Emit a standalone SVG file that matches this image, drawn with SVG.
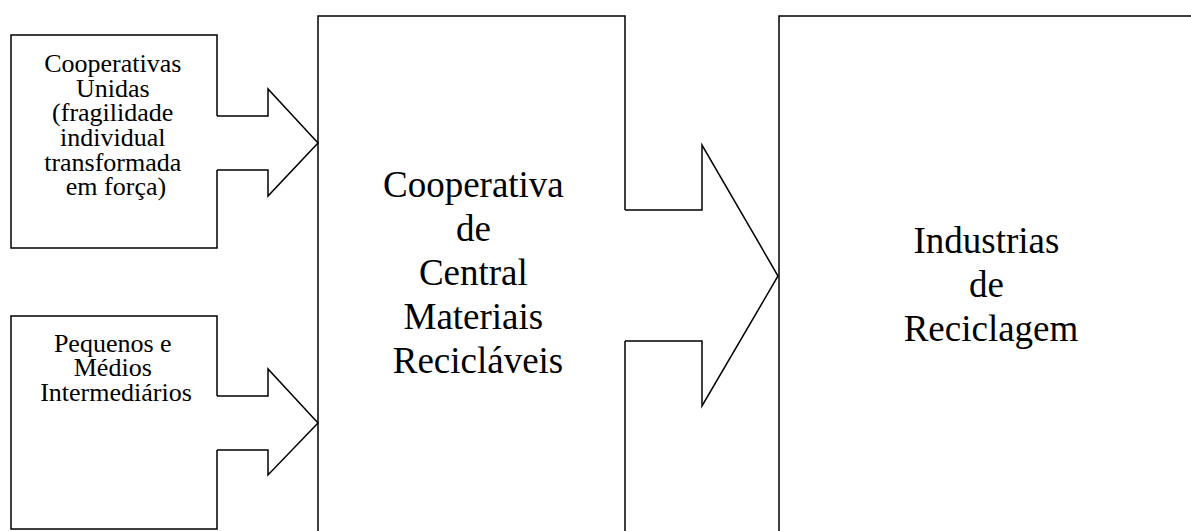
<svg xmlns="http://www.w3.org/2000/svg" width="1191" height="531" viewBox="0 0 1191 531">
  <style>
    .outline { fill: #ffffff; stroke: #000000; stroke-width: 1.5; stroke-linejoin: miter; }
    .edge { fill: none; stroke: #000000; stroke-width: 1.5; stroke-linejoin: miter; }
    text { fill: #000000; text-anchor: middle; }
  </style>
  <rect x="0" y="0" width="1191" height="531" fill="#ffffff"/>

  <!-- central cooperative: tall box, open at the bottom of the page -->
  <g id="central">
    <path class="outline" d="M318,540 V16 H625 V540 Z"/>
    <text font-family="Liberation Serif, serif" font-size="37">
      <tspan x="478" y="197">Cooperativa</tspan>
      <tspan x="478" y="241">de</tspan>
      <tspan x="478" y="285">Central</tspan>
      <tspan x="478" y="329">Materiais</tspan>
      <tspan x="478" y="373">Recicláveis</tspan>
    </text>
  </g>

  <!-- recycling industries: box running off the right and bottom edges -->
  <g id="industrias">
    <path class="outline" d="M779,540 V16 H1200 V540 Z"/>
    <text font-family="Liberation Serif, serif" font-size="37">
      <tspan x="991" y="253">Industrias</tspan>
      <tspan x="991" y="297">de</tspan>
      <tspan x="991" y="341">Reciclagem</tspan>
    </text>
  </g>

  <!-- united cooperatives -->
  <g id="cooperativas-unidas">
    <rect class="outline" x="11" y="35" width="206" height="213"/>
    <text font-family="Liberation Serif, serif" font-size="26">
      <tspan x="116" y="72">Cooperativas</tspan>
      <tspan x="116" y="97">Unidas</tspan>
      <tspan x="116" y="121">(fragilidade</tspan>
      <tspan x="116" y="146">individual</tspan>
      <tspan x="116" y="171">transformada</tspan>
      <tspan x="116" y="195">em força)</tspan>
    </text>
  </g>

  <!-- small and medium intermediaries -->
  <g id="intermediarios">
    <rect class="outline" x="11" y="316" width="206" height="213"/>
    <text font-family="Liberation Serif, serif" font-size="26">
      <tspan x="116" y="352">Pequenos e</tspan>
      <tspan x="116" y="376">Médios</tspan>
      <tspan x="116" y="401">Intermediários</tspan>
    </text>
  </g>

  <!-- block arrows: white body hides the box edge under the shaft, then the outline -->
  <g id="connectors">
    <g id="arrow-unidas-central">
      <polygon points="216,116 268,116 268,89 318,143 268,196 268,170 216,170" fill="#ffffff"/>
      <polyline class="edge" points="217,116 268,116 268,89 318,143 268,196 268,170 217,170"/>
    </g>
    <g id="arrow-intermediarios-central">
      <polygon points="216,396 268,396 268,369 318,423 268,475 268,450 216,450" fill="#ffffff"/>
      <polyline class="edge" points="217,396 268,396 268,369 318,423 268,475 268,450 217,450"/>
    </g>
    <g id="arrow-central-industrias">
      <polygon points="624,210 702,210 702,145 778,276 702,406 702,341 624,341" fill="#ffffff"/>
      <polyline class="edge" points="625,210 702,210 702,145 778,276 702,406 702,341 625,341"/>
    </g>
  </g>
</svg>
